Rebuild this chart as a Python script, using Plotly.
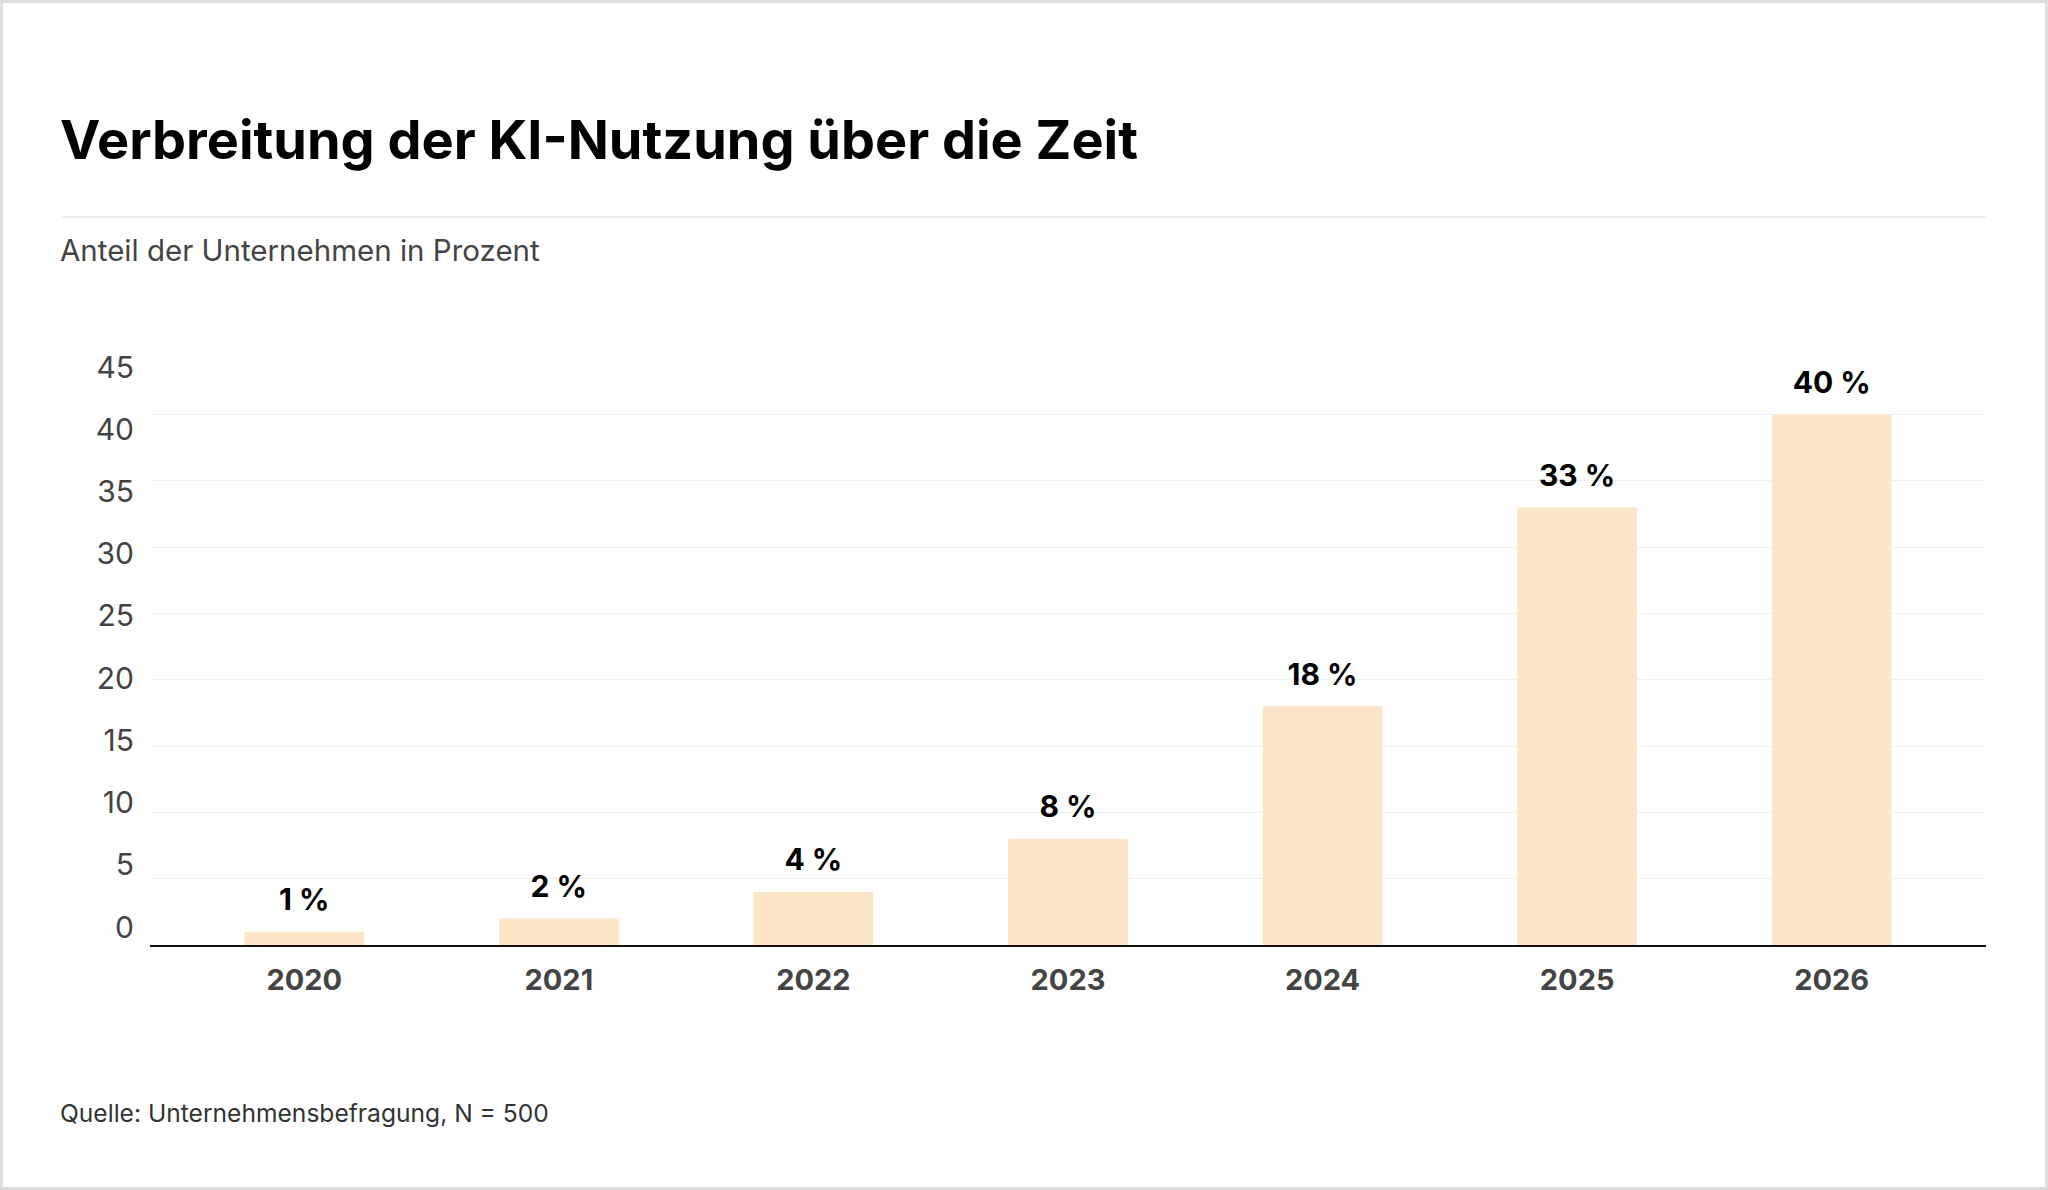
import plotly.graph_objects as go

# chart data
years = ["2020", "2021", "2022", "2023", "2024", "2025", "2026"]
share = [1, 2, 4, 8, 18, 33, 40]
labels = ["1 %", "2 %", "4 %", "8 %", "18 %", "33 %", "40 %"]
y_ticks = [0, 5, 10, 15, 20, 25, 30, 35, 40, 45]

title = "Verbreitung der KI-Nutzung über die Zeit"
subtitle = "Anteil der Unternehmen in Prozent"
source = "Quelle: Unternehmensbefragung, N = 500"

W, H = 2048, 1190
L, R, T, B = 150, 62, 348, 245
PW = W - L - R
PH = H - T - B
FONT = "Inter"


def px_x(p):
    # pixel -> paper x
    return (p - L) / PW


def px_y(p):
    # pixel (from top) -> paper y
    return (H - B - p) / PH


fig = go.Figure()

fig.add_trace(go.Bar(
    x=years,
    y=share,
    width=0.47,
    marker=dict(color="#FDE6C7", line=dict(width=0)),
    hoverinfo="skip",
    showlegend=False,
))

# value labels above the bars
fig.add_trace(go.Scatter(
    x=years,
    y=share,
    mode="markers+text",
    text=labels,
    textposition="top center",
    textfont=dict(family=FONT, size=30, color="#000000", weight=700),
    marker=dict(size=21, color="rgba(0,0,0,0)"),
    cliponaxis=False,
    hoverinfo="skip",
    showlegend=False,
))

# empty trace so the label axis is drawn
fig.add_trace(go.Scatter(x=[None], y=[None], yaxis="y2", showlegend=False, hoverinfo="skip"))

fig.update_layout(
    width=W,
    height=H,
    margin=dict(l=L, r=R, t=T, b=B, pad=0),
    paper_bgcolor="white",
    plot_bgcolor="white",
    font=dict(family=FONT, color="#444444"),
    xaxis=dict(
        type="category",
        range=[-0.606, 6.606],
        showgrid=False,
        showline=True,
        linecolor="#111111",
        linewidth=2,
        ticks="",
        tickfont=dict(family=FONT, size=29, color="#444444", weight=700),
        ticklabelstandoff=8,
        fixedrange=True,
    ),
    yaxis=dict(
        range=[0, 45],
        tickvals=y_ticks,
        showticklabels=False,
        showgrid=True,
        gridcolor="#f0f0f0",
        gridwidth=1,
        zeroline=False,
        showline=False,
        ticks="",
        fixedrange=True,
    ),
    yaxis2=dict(
        overlaying="y",
        side="left",
        range=[-1.446, 46.53],
        tickvals=y_ticks,
        showgrid=False,
        zeroline=False,
        showline=False,
        ticks="",
        tickfont=dict(family=FONT, size=30, color="#444444"),
        ticklabelstandoff=15,
        fixedrange=True,
    ),
    annotations=[
        dict(text=title, x=px_x(58), y=px_y(140), xref="paper", yref="paper",
             xanchor="left", yanchor="middle", showarrow=False,
             font=dict(family=FONT, size=54, color="#000000", weight=700)),
        dict(text=subtitle, x=px_x(58), y=px_y(250), xref="paper", yref="paper",
             xanchor="left", yanchor="middle", showarrow=False,
             font=dict(family=FONT, size=29.5, color="#444444")),
        dict(text=source, x=px_x(58), y=px_y(1113), xref="paper", yref="paper",
             xanchor="left", yanchor="middle", showarrow=False,
             font=dict(family=FONT, size=24.6, color="#333333")),
    ],
    shapes=[
        # thin rule under the title
        dict(type="line", xref="paper", yref="paper",
             x0=px_x(62), x1=px_x(1986), y0=px_y(217), y1=px_y(217),
             line=dict(color="#ebebeb", width=1.5)),
        # light frame round the whole graphic
        dict(type="rect", xref="paper", yref="paper",
             x0=px_x(1.5), x1=px_x(W - 1.5), y0=px_y(1.5), y1=px_y(H - 1.5),
             line=dict(color="#dddddd", width=3), layer="below"),
    ],
)

fig.write_html("out.html", config={"displayModeBar": False},
               post_script="document.body.style.margin='0';")
